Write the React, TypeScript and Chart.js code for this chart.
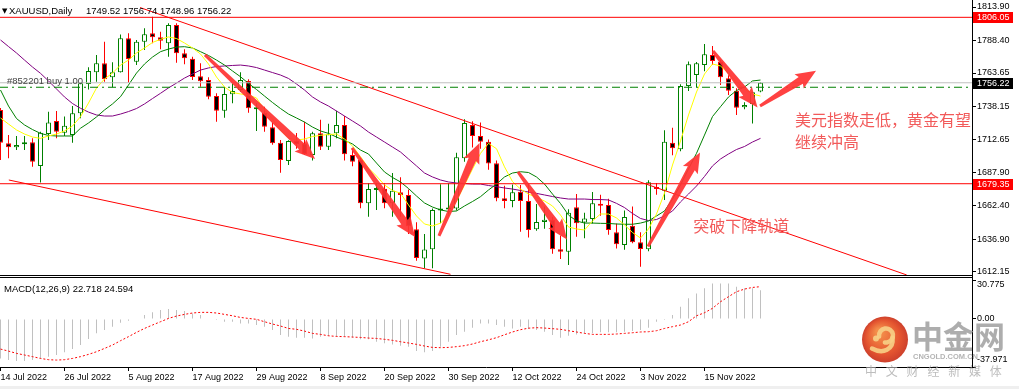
import { useEffect, useRef } from 'react';
import { Chart, registerables } from 'chart.js';

Chart.register(...registerables);

const SANS = '"Liberation Sans", Arial, sans-serif';
const CJK = '"Noto Sans CJK SC", "Noto Sans CJK JP", sans-serif';

// ---------- data ----------
const DATE_LABELS = ['14 Jul 2022', '26 Jul 2022', '5 Aug 2022', '17 Aug 2022', '29 Aug 2022', '8 Sep 2022', '20 Sep 2022', '30 Sep 2022', '12 Oct 2022', '24 Oct 2022', '3 Nov 2022', '15 Nov 2022'];
const DATE_TICK_BARS = [0, 8, 16, 24, 32, 40, 48, 56, 64, 72, 80, 88];
const PRICE_TICKS = [1813.9, 1788.4, 1763.65, 1738.15, 1712.65, 1687.9, 1662.4, 1636.9, 1612.15];
const MACD_TICKS = [30.775, 0, -37.971];

const OPEN = [1735.5, 1710.1, 1707.1, 1709.4, 1710.9, 1692.8, 1717.2, 1727.1, 1718.2, 1716.5,
  1733.0, 1755.3, 1764.2, 1771.0, 1760.4, 1764.2, 1790.1, 1772.3, 1787.5, 1793.9,
  1790.8, 1786.3, 1800.2, 1778.6, 1774.5, 1761.2, 1758.3, 1746.1, 1735.0, 1747.4,
  1750.7, 1757.6, 1736.0, 1733.4, 1722.3, 1710.6, 1696.7, 1712.0, 1710.0, 1701.2,
  1717.7, 1707.5, 1717.7, 1724.0, 1701.2, 1697.4, 1664.5, 1674.6, 1675.5, 1664.5,
  1672.8, 1670.8, 1644.6, 1622.5, 1629.4, 1659.0, 1659.8, 1660.5, 1698.7, 1724.0,
  1715.7, 1711.3, 1694.9, 1668.3, 1666.2, 1673.3, 1666.2, 1644.6, 1650.3, 1652.0,
  1629.4, 1627.6, 1661.4, 1649.9, 1652.5, 1664.0, 1663.2, 1642.4, 1632.7, 1647.4,
  1634.8, 1629.4, 1676.6, 1674.0, 1710.6, 1705.6, 1753.8, 1762.2, 1769.7, 1777.4,
  1772.3, 1759.6, 1750.2, 1737.5, 1740.0, 1749.52];
const HIGH = [1737.0, 1716.5, 1715.7, 1715.7, 1713.9, 1719.0, 1734.2, 1734.7, 1730.6, 1738.5,
  1756.5, 1768.0, 1777.4, 1787.5, 1771.8, 1793.0, 1793.9, 1788.8, 1797.7, 1806.5,
  1795.1, 1801.5, 1801.5, 1781.7, 1776.0, 1771.0, 1760.4, 1748.2, 1753.2, 1755.8,
  1764.2, 1758.9, 1740.6, 1738.0, 1726.0, 1712.6, 1712.5, 1718.0, 1726.6, 1719.0,
  1728.0, 1725.0, 1735.0, 1731.0, 1706.0, 1699.0, 1679.7, 1679.7, 1679.7, 1687.5,
  1684.2, 1675.0, 1650.0, 1641.0, 1660.5, 1678.9, 1679.7, 1703.0, 1728.4, 1727.0,
  1726.0, 1713.0, 1697.0, 1677.9, 1678.7, 1678.4, 1680.0, 1664.0, 1662.0, 1654.0,
  1640.0, 1660.0, 1671.5, 1657.3, 1673.0, 1671.0, 1668.0, 1649.0, 1659.0, 1662.0,
  1642.4, 1682.0, 1680.0, 1720.0, 1722.0, 1755.0, 1772.5, 1772.0, 1785.7, 1784.2,
  1774.0, 1762.0, 1752.0, 1741.4, 1749.4, 1756.74];
const LOW = [1697.4, 1698.7, 1705.0, 1705.0, 1692.3, 1680.2, 1712.6, 1713.9, 1715.7, 1710.6,
  1729.2, 1751.0, 1757.0, 1757.0, 1752.8, 1764.0, 1756.3, 1769.8, 1781.2, 1786.3,
  1781.7, 1776.0, 1771.5, 1770.3, 1758.3, 1753.2, 1743.6, 1726.6, 1729.6, 1740.6,
  1749.4, 1733.4, 1719.5, 1719.0, 1709.0, 1687.8, 1693.6, 1706.0, 1701.2, 1697.0,
  1705.0, 1705.0, 1714.0, 1697.0, 1692.6, 1660.6, 1654.2, 1659.4, 1660.6, 1654.2,
  1654.2, 1641.0, 1620.8, 1615.0, 1615.0, 1649.2, 1655.0, 1659.0, 1696.0, 1707.0,
  1706.0, 1690.0, 1666.0, 1660.6, 1661.4, 1642.8, 1638.5, 1643.6, 1645.0, 1626.0,
  1622.0, 1617.5, 1639.0, 1637.8, 1649.0, 1655.0, 1640.5, 1630.0, 1629.0, 1634.0,
  1616.2, 1628.0, 1671.0, 1667.0, 1701.0, 1704.0, 1750.0, 1753.0, 1765.0, 1769.7,
  1754.5, 1747.0, 1731.7, 1736.0, 1725.3, 1748.96];
const CLOSE = [1710.5, 1707.1, 1708.8, 1710.9, 1696.1, 1718.2, 1726.0, 1719.0, 1723.5, 1733.0,
  1755.8, 1765.2, 1771.0, 1758.9, 1764.2, 1790.1, 1774.3, 1787.5, 1793.1, 1790.8,
  1788.2, 1800.2, 1778.6, 1774.8, 1760.6, 1757.3, 1745.6, 1735.0, 1747.7, 1749.9,
  1758.3, 1736.8, 1736.6, 1722.8, 1710.1, 1697.4, 1711.9, 1709.5, 1702.0, 1717.7,
  1707.5, 1717.0, 1724.0, 1701.7, 1696.0, 1664.5, 1675.3, 1675.5, 1664.5, 1674.0,
  1670.8, 1647.0, 1622.8, 1629.2, 1659.4, 1660.5, 1661.0, 1699.6, 1725.5, 1715.7,
  1711.3, 1694.7, 1668.3, 1666.2, 1672.8, 1666.2, 1644.1, 1650.3, 1652.0, 1629.4,
  1627.6, 1657.3, 1649.2, 1652.9, 1664.5, 1662.6, 1644.1, 1633.3, 1654.0, 1634.8,
  1629.6, 1680.4, 1675.3, 1711.3, 1706.3, 1753.8, 1770.3, 1771.0, 1777.9, 1772.8,
  1760.4, 1750.2, 1737.2, 1739.3, 1749.0, 1756.22];

const MA_FAST = [1729.4, 1724.8, 1720.3, 1717.2, 1714.9, 1713.9, 1715.7, 1717.2, 1719.5, 1723.3,
  1730.4, 1740.8, 1752.2, 1759.1, 1763.6, 1769.7, 1773.5, 1778.9, 1782.7, 1786.9,
  1789.3, 1791.1, 1789.9, 1786.5, 1782.7, 1778.1, 1770.5, 1760.6, 1753.0, 1748.8,
  1747.7, 1746.9, 1744.6, 1735.5, 1728.6, 1720.3, 1714.2, 1712.6, 1713.4, 1715.3,
  1716.2, 1716.8, 1717.2, 1713.4, 1708.1, 1699.9, 1691.3, 1685.2, 1678.4, 1674.2,
  1672.1, 1663.2, 1654.8, 1648.7, 1647.2, 1649.3, 1655.5, 1666.2, 1678.4, 1690.6,
  1702.5, 1710.1, 1706.0, 1692.2, 1681.0, 1675.3, 1671.5, 1668.9, 1666.2, 1662.4,
  1655.5, 1646.4, 1644.9, 1644.1, 1651.0, 1656.3, 1656.3, 1653.3, 1648.0, 1642.2,
  1638.0, 1644.9, 1656.3, 1672.3, 1693.6, 1711.9, 1731.7, 1749.2, 1762.9, 1770.5,
  1769.0, 1763.3, 1756.8, 1751.5, 1747.7, 1746.1];
const MA_MID = [1750.7, 1738.5, 1729.0, 1724.1, 1720.6, 1717.7, 1716.1, 1715.7, 1715.7, 1715.7,
  1721.6, 1725.6, 1730.2, 1735.5, 1740.1, 1745.6, 1754.5, 1763.6, 1770.5, 1775.8,
  1779.9, 1781.9, 1783.4, 1783.7, 1782.7, 1779.9, 1777.0, 1773.5, 1769.7, 1765.2,
  1760.8, 1755.7, 1751.1, 1746.1, 1741.2, 1736.6, 1732.4, 1729.4, 1726.3, 1722.5,
  1719.5, 1717.7, 1714.9, 1712.3, 1709.6, 1705.0, 1702.0, 1695.1, 1688.3, 1684.1,
  1680.7, 1675.7, 1670.0, 1664.7, 1661.6, 1659.4, 1658.2, 1658.6, 1662.4, 1665.8,
  1669.5, 1674.6, 1679.1, 1684.5, 1687.5, 1688.5, 1687.9, 1684.5, 1679.1, 1671.5,
  1664.3, 1655.5, 1651.0, 1649.4, 1649.4, 1649.2, 1649.1, 1648.7, 1648.5, 1648.5,
  1649.4, 1651.0, 1654.8, 1658.6, 1667.7, 1678.4, 1690.6, 1702.5, 1716.4, 1730.5,
  1738.0, 1745.4, 1750.3, 1753.0, 1757.6, 1758.3];
const MA_SLOW = [1788.8, 1783.8, 1778.9, 1773.5, 1768.2, 1763.4, 1757.6, 1751.5, 1745.4, 1740.4,
  1736.8, 1733.9, 1731.7, 1730.9, 1730.9, 1732.4, 1734.3, 1736.6, 1740.1, 1744.2,
  1748.2, 1752.3, 1756.0, 1759.8, 1762.9, 1765.9, 1767.5, 1768.6, 1769.0, 1769.4,
  1769.7, 1769.0, 1767.8, 1765.9, 1764.0, 1762.1, 1759.5, 1755.3, 1750.7, 1745.4,
  1741.6, 1738.5, 1734.7, 1730.9, 1727.1, 1723.3, 1718.7, 1714.9, 1711.1, 1707.3,
  1703.5, 1698.2, 1692.9, 1687.5, 1684.5, 1682.2, 1680.7, 1679.9, 1679.5, 1679.1,
  1679.1, 1678.0, 1677.1, 1676.1, 1675.3, 1674.2, 1673.0, 1672.0, 1670.8, 1669.6,
  1668.5, 1667.7, 1667.7, 1667.7, 1667.3, 1667.3, 1667.0, 1664.4, 1661.2, 1656.7,
  1652.9, 1651.3, 1652.1, 1654.8, 1658.6, 1665.5, 1671.5, 1677.6, 1684.9, 1692.9,
  1698.2, 1702.0, 1705.4, 1707.7, 1711.1, 1713.9];

const MACD_MAIN = [-31.2, -32.5, -33.3, -33.3, -32.5, -31.2, -29.8, -28.5, -26.4, -23.8,
  -20.6, -15.9, -11.4, -8.8, -6.1, -3.0, -1.4, 0.4, 3.1, 5.2,
  7.0, 7.8, 7.0, 6.3, 4.4, 3.1, 0.4, -0.9, -2.2, -2.2,
  -3.5, -3.5, -4.8, -6.1, -8.8, -12.7, -14.0, -14.8, -14.8, -15.4,
  -14.0, -13.5, -14.0, -14.0, -14.8, -16.1, -16.1, -18.0, -19.3, -20.1,
  -21.1, -21.9, -25.4, -26.4, -25.4, -21.9, -18.0, -12.7, -10.1, -6.9,
  -3.5, -3.5, -4.8, -6.1, -7.5, -6.1, -8.0, -8.8, -10.1, -12.7,
  -14.8, -13.3, -12.2, -11.4, -11.4, -10.6, -10.6, -10.6, -10.1, -9.6,
  -8.8, -6.9, -2.2, -0.1, 3.1, 9.7, 16.3, 20.2, 24.2, 28.1,
  28.1, 28.1, 25.5, 24.2, 24.2, 22.7];
const MACD_SIGNAL = [-23.8, -25.4, -27.2, -28.5, -29.8, -31.2, -32.2, -32.5, -32.2, -31.2,
  -29.8, -28.0, -25.9, -23.3, -20.6, -17.2, -14.0, -10.6, -7.5, -4.8,
  -2.2, 0.4, 2.3, 3.6, 4.7, 5.2, 5.2, 4.7, 3.6, 2.5,
  1.2, 0.4, -0.3, -2.2, -4.0, -5.6, -7.5, -8.2, -9.6, -11.4,
  -12.2, -13.3, -13.8, -14.0, -14.3, -14.6, -15.1, -15.4, -16.1, -16.9,
  -18.0, -19.0, -20.1, -21.4, -22.5, -22.7, -22.5, -21.9, -21.1, -19.8,
  -18.0, -16.5, -14.8, -12.5, -10.3, -8.5, -7.3, -6.9, -7.2, -7.7,
  -8.2, -9.3, -10.3, -11.4, -12.2, -12.2, -12.2, -11.9, -11.4, -10.9,
  -10.3, -10.1, -9.3, -7.5, -6.1, -4.8, -2.2, 2.5, 4.9, 8.4,
  13.6, 17.6, 21.5, 23.6, 24.9, 25.5];

const LEVEL_TOP = 1806.05;
const LEVEL_BOTTOM = 1679.35;
const LAST_PRICE = 1756.22;
const ORDER_PRICE = 1752.8;
const UPPER_CHANNEL = [{ x: 17.44, y: 1813.5 }, { x: 113.27, y: 1609.9 }];
const LOWER_CHANNEL = [{ x: 1.04, y: 1682.2 }, { x: 56.25, y: 1610.4 }];
// arrows: [bar0, price0, bar1, price1] (tail -> tip)
const ARROWS = [
  [25.56, 1777.4, 39.31, 1698.2],
  [43.94, 1706.6, 51.81, 1638.8],
  [54.81, 1639.6, 59.88, 1710.4],
  [64.69, 1688.3, 70.81, 1636.9],
  [80.94, 1631.6, 87.44, 1703.1],
  [89.06, 1780.4, 94.63, 1737.4],
  [94.94, 1738.5, 101.94, 1765.4],
];
const NOTES = [
  { text: '美元指数走低，黄金有望', bar: 99.3, price: 1727.9 },
  { text: '继续冲高', bar: 99.3, price: 1711.3 },
  { text: '突破下降轨道', bar: 86.6, price: 1647.5 },
];
const HEADER_SYMBOL = 'XAUUSD,Daily';
const HEADER_OHLC = '1749.52 1756.74 1748.96 1756.22';
const ORDER_LABEL = '#852201 buy 1.00';
const MACD_LABEL = 'MACD(12,26,9) 22.718 24.594';
const WM_NAME = '中金网';
const WM_SITE = 'CNGOLD.COM.CN';
const WM_SLOGAN = '中文财经新媒体';

const X_MIN = -0.0625;
const X_MAX = 121.4375;
const P_MIN = 1609.1;
const P_MAX = 1816.95;
const M_MIN = -37.971;
const M_MAX = 30.775;

// ---------- helpers ----------
function drawArrow(ctx: CanvasRenderingContext2D, x0: number, y0: number, x1: number, y1: number) {
  const dx = x1 - x0, dy = y1 - y0;
  const len = Math.hypot(dx, dy);
  const ux = dx / len, uy = dy / len;
  const nx = -uy, ny = ux;
  const headLen = 18, headW = 8.5, tailW = 1.5, neckW = 4;
  const bx = x1 - ux * headLen, by = y1 - uy * headLen;
  ctx.beginPath();
  ctx.moveTo(x0 + nx * tailW, y0 + ny * tailW);
  ctx.lineTo(bx + nx * neckW, by + ny * neckW);
  ctx.lineTo(bx - ux * 2 + nx * headW, by - uy * 2 + ny * headW);
  ctx.lineTo(x1, y1);
  ctx.lineTo(bx - ux * 2 - nx * headW, by - uy * 2 - ny * headW);
  ctx.lineTo(bx - nx * neckW, by - ny * neckW);
  ctx.lineTo(x0 - nx * tailW, y0 - ny * tailW);
  ctx.closePath();
  ctx.fill();
}

const isUp = (i: number) => CLOSE[i] >= OPEN[i];
const BAR_IDX = OPEN.map((_, i) => i);

const mainOverlay = {
  id: 'mainOverlay',
  afterDatasetsDraw(chart: any) {
    const { ctx, chartArea, scales } = chart;
    const x = scales.x, y = scales.y;
    ctx.save();
    ctx.beginPath();
    ctx.rect(chartArea.left, chartArea.top, chartArea.right - chartArea.left, chartArea.bottom - chartArea.top);
    ctx.clip();
    ctx.fillStyle = 'rgba(255,52,52,0.93)';
    ARROWS.forEach(([b0, p0, b1, p1]) =>
      drawArrow(ctx, x.getPixelForValue(b0), y.getPixelForValue(p0), x.getPixelForValue(b1), y.getPixelForValue(p1)));
    ctx.restore();
    ctx.save();
    ctx.fillStyle = '#F25A5A';
    ctx.font = `16px ${CJK}`;
    ctx.textBaseline = 'middle';
    ctx.textAlign = 'left';
    NOTES.forEach((n) => ctx.fillText(n.text, x.getPixelForValue(n.bar), y.getPixelForValue(n.price)));
    ctx.restore();
  },
  afterDraw(chart: any) {
    const { ctx, scales } = chart;
    const y = scales.y;
    ctx.save();
    ctx.strokeStyle = '#000';
    ctx.lineWidth = 1;
    ctx.beginPath();
    ctx.moveTo(0, 275.5); ctx.lineTo(972, 275.5);
    ctx.moveTo(0, 277.5); ctx.lineTo(972, 277.5);
    ctx.moveTo(972.5, 0); ctx.lineTo(972.5, 278);
    ctx.stroke();
    const box = (price: number, bg: string) => {
      const py = Math.round(y.getPixelForValue(price));
      ctx.fillStyle = bg;
      ctx.fillRect(973, py - 5, 40, 11);
      ctx.fillStyle = '#fff';
      ctx.font = `9px ${SANS}`;
      ctx.textBaseline = 'middle';
      ctx.textAlign = 'left';
      ctx.fillText(price.toFixed(2), 977, py + 0.5);
    };
    box(LEVEL_TOP, '#FF0000');
    box(LAST_PRICE, '#000000');
    box(LEVEL_BOTTOM, '#FF0000');
    ctx.fillStyle = '#000';
    ctx.textBaseline = 'alphabetic';
    ctx.textAlign = 'left';
    ctx.font = `7px "DejaVu Sans", sans-serif`;
    ctx.fillText('▼', 2, 13);
    ctx.font = `9.5px ${SANS}`;
    ctx.fillText(HEADER_SYMBOL, 9, 14);
    ctx.fillText(HEADER_OHLC, 86, 14);
    ctx.fillStyle = '#444';
    ctx.fillText(ORDER_LABEL, 7, Math.round(y.getPixelForValue(ORDER_PRICE)) - 3);
    ctx.restore();
  },
};

const macdOverlay = {
  id: 'macdOverlay',
  afterDraw(chart: any) {
    const { ctx, chartArea, scales } = chart;
    const y = scales.y;
    ctx.save();
    ctx.strokeStyle = '#000';
    ctx.lineWidth = 1;
    ctx.beginPath();
    ctx.moveTo(972.5, 0); ctx.lineTo(972.5, chartArea.bottom);
    ctx.stroke();
    ctx.fillStyle = '#EFEFEF';
    ctx.fillRect(0, 108, 1019, 3);
    ctx.fillStyle = '#000';
    ctx.font = `9.5px ${SANS}`;
    ctx.textAlign = 'left';
    ctx.textBaseline = 'alphabetic';
    ctx.fillText(MACD_LABEL, 4, 14);
    ctx.font = `9px ${SANS}`;
    ctx.textBaseline = 'middle';
    MACD_TICKS.forEach((v) => {
      const py = Math.min(Math.max(y.getPixelForValue(v), chartArea.top + 4.5), chartArea.bottom - 7);
      ctx.fillText(v === 0 ? '0.00' : String(v), 977, py);
    });
    ctx.globalAlpha = 0.92;
    const cx = 885, cy = 61.5, r = 23;
    const g = ctx.createRadialGradient(cx - 6, cy - 8, 3, cx, cy, r);
    g.addColorStop(0, '#F3843A');
    g.addColorStop(0.7, '#E2461E');
    g.addColorStop(1, '#C9301A');
    ctx.fillStyle = g;
    ctx.beginPath(); ctx.arc(cx, cy, r, 0, Math.PI * 2); ctx.fill();
    ctx.strokeStyle = '#F7CF86';
    ctx.lineCap = 'round';
    ctx.lineWidth = 4.5;
    ctx.beginPath(); ctx.arc(cx + 1, cy - 4, 7, Math.PI * 0.95, Math.PI * 2.55); ctx.stroke();
    ctx.beginPath(); ctx.moveTo(cx + 7.5, cy - 2); ctx.bezierCurveTo(cx + 9, cy + 10, cx - 2, cy + 15, cx - 13, cy + 9); ctx.stroke();
    ctx.fillStyle = '#F7CF86';
    ctx.beginPath(); ctx.arc(cx - 9, cy - 1, 3, 0, Math.PI * 2); ctx.fill();
    ctx.fillStyle = 'rgba(150,150,150,0.85)';
    ctx.font = `bold 31px ${CJK}`;
    ctx.textBaseline = 'middle';
    ctx.fillText(WM_NAME, 912, 58);
    ctx.fillStyle = 'rgba(165,165,165,0.9)';
    ctx.font = `bold 7.5px ${SANS}`;
    ctx.fillText(WM_SITE, 913, 79);
    ctx.fillStyle = 'rgba(180,180,180,0.95)';
    ctx.font = `12px ${CJK}`;
    WM_SLOGAN.split('').forEach((ch, k) => ctx.fillText(ch, 865 + k * 20.8, 93));
    ctx.restore();
  },
};

const hLine = (level: number) => [{ x: X_MIN, y: level }, { x: X_MAX, y: level }];

export default function App() {
  const refA = useRef<HTMLCanvasElement>(null);
  const refB = useRef<HTMLCanvasElement>(null);

  useEffect(() => {
    const lineBase = { type: 'line' as const, pointRadius: 0, borderWidth: 1, fill: false, tension: 0 };
    const chartA = new Chart(refA.current as HTMLCanvasElement, {
      type: 'bar',
      data: {
        datasets: [
          { ...lineBase, data: hLine(LEVEL_TOP), borderColor: '#FF0000', order: 1 },
          { ...lineBase, data: hLine(LEVEL_BOTTOM), borderColor: '#FF0000', order: 1 },
          { ...lineBase, data: hLine(LAST_PRICE), borderColor: '#C0C0C0', order: 1 },
          { ...lineBase, data: hLine(ORDER_PRICE), borderColor: '#008000', borderDash: [8, 4, 2, 4], order: 1 },
          { ...lineBase, data: UPPER_CHANNEL, borderColor: '#FF0000', order: 1 },
          { ...lineBase, data: LOWER_CHANNEL, borderColor: '#FF0000', order: 1 },
          { ...lineBase, data: MA_FAST.map((v, i) => ({ x: i, y: v })), borderColor: '#FFFF00', order: 3 },
          { ...lineBase, data: MA_MID.map((v, i) => ({ x: i, y: v })), borderColor: '#008000', order: 3 },
          { ...lineBase, data: MA_SLOW.map((v, i) => ({ x: i, y: v })), borderColor: '#800080', order: 3 },
          {
            type: 'bar',
            data: BAR_IDX.map((i) => ({ x: i, y: [OPEN[i], CLOSE[i]] })) as any,
            backgroundColor: BAR_IDX.map((i) => (isUp(i) ? '#FFFFFF' : '#000000')),
            borderColor: BAR_IDX.map((i) => (isUp(i) ? '#008000' : '#FF0000')),
            borderWidth: 1,
            borderSkipped: false,
            barThickness: 5,
            minBarLength: 2,
            grouped: false,
            inflateAmount: 0,
            order: 8,
          } as any,
          {
            type: 'bar',
            data: BAR_IDX.map((i) => ({ x: i, y: [LOW[i], HIGH[i]] })) as any,
            backgroundColor: BAR_IDX.map((i) => (isUp(i) ? '#008000' : '#FF0000')),
            borderWidth: 0,
            barThickness: 1,
            grouped: false,
            inflateAmount: 0,
            order: 9,
          } as any,
        ],
      },
      options: {
        responsive: false,
        maintainAspectRatio: false,
        animation: false,
        devicePixelRatio: 1,
        events: [],
        layout: { padding: { top: 3, bottom: 2, left: 0, right: 0 }, autoPadding: false },
        plugins: { legend: { display: false }, tooltip: { enabled: false } },
        scales: {
          x: { type: 'linear', min: X_MIN, max: X_MAX, display: false, offset: false, grid: { offset: false } },
          y: {
            type: 'linear',
            position: 'right',
            min: P_MIN,
            max: P_MAX,
            afterBuildTicks: (s: any) => { s.ticks = PRICE_TICKS.map((v) => ({ value: v })); },
            afterFit: (s: any) => { s.width = 47; s.paddingTop = 0; s.paddingBottom = 0; },
            ticks: {
              callback: (v: any) => Number(v).toFixed(2),
              font: { family: SANS, size: 9 },
              color: '#000',
              padding: 1,
              autoSkip: false,
            },
            grid: { drawOnChartArea: false, drawTicks: true, tickLength: 4, tickColor: '#000', color: '#000' },
            border: { display: true, color: '#000', width: 1 },
          },
        },
      } as any,
      plugins: [mainOverlay],
    });

    const chartB = new Chart(refB.current as HTMLCanvasElement, {
      type: 'bar',
      data: {
        datasets: [
          {
            ...lineBase,
            data: MACD_SIGNAL.map((v, i) => ({ x: i, y: v })),
            borderColor: '#FF0000',
            borderDash: [2, 2],
            order: 1,
          },
          {
            type: 'bar',
            data: MACD_MAIN.map((v, i) => ({ x: i, y: v })),
            backgroundColor: '#C0C0C0',
            borderWidth: 0,
            barThickness: 1,
            grouped: false,
            inflateAmount: 0,
            order: 5,
          } as any,
        ],
      },
      options: {
        responsive: false,
        maintainAspectRatio: false,
        animation: false,
        devicePixelRatio: 1,
        events: [],
        layout: { padding: { top: 2, bottom: 0, left: 0, right: 0 }, autoPadding: false },
        plugins: { legend: { display: false }, tooltip: { enabled: false } },
        scales: {
          x: {
            type: 'linear',
            position: 'bottom',
            min: X_MIN,
            max: X_MAX,
            offset: false,
            afterBuildTicks: (s: any) => { s.ticks = DATE_TICK_BARS.map((v) => ({ value: v })); },
            afterFit: (s: any) => { s.height = 22; s.paddingLeft = 0; s.paddingRight = 0; },
            ticks: {
              callback: (_v: any, i: number) => DATE_LABELS[i] ?? '',
              autoSkip: false,
              maxRotation: 0,
              minRotation: 0,
              align: 'start',
              font: { family: SANS, size: 9 },
              color: '#000',
              padding: 1,
            },
            grid: { offset: false, drawOnChartArea: false, drawTicks: true, tickLength: 4, tickColor: '#000', color: '#000' },
            border: { display: true, color: '#000', width: 1 },
          },
          y: {
            type: 'linear',
            position: 'right',
            min: M_MIN,
            max: M_MAX,
            afterBuildTicks: (s: any) => { s.ticks = MACD_TICKS.map((v) => ({ value: v })); },
            afterFit: (s: any) => { s.width = 47; s.paddingTop = 0; s.paddingBottom = 0; },
            ticks: { display: false },
            grid: { drawOnChartArea: false, drawTicks: true, tickLength: 4, tickColor: '#000', color: '#000' },
            border: { display: true, color: '#000', width: 1 },
          },
        },
      } as any,
      plugins: [macdOverlay],
    });

    return () => {
      chartA.destroy();
      chartB.destroy();
    };
  }, []);

  return (
    <div style={{ position: 'absolute', left: 0, top: 0, width: 1019, height: 389, background: '#fff', overflow: 'hidden' }}>
      <canvas ref={refA} width={1019} height={278} style={{ display: 'block', width: 1019, height: 278 }} />
      <canvas ref={refB} width={1019} height={111} style={{ display: 'block', width: 1019, height: 111 }} />
    </div>
  );
}
